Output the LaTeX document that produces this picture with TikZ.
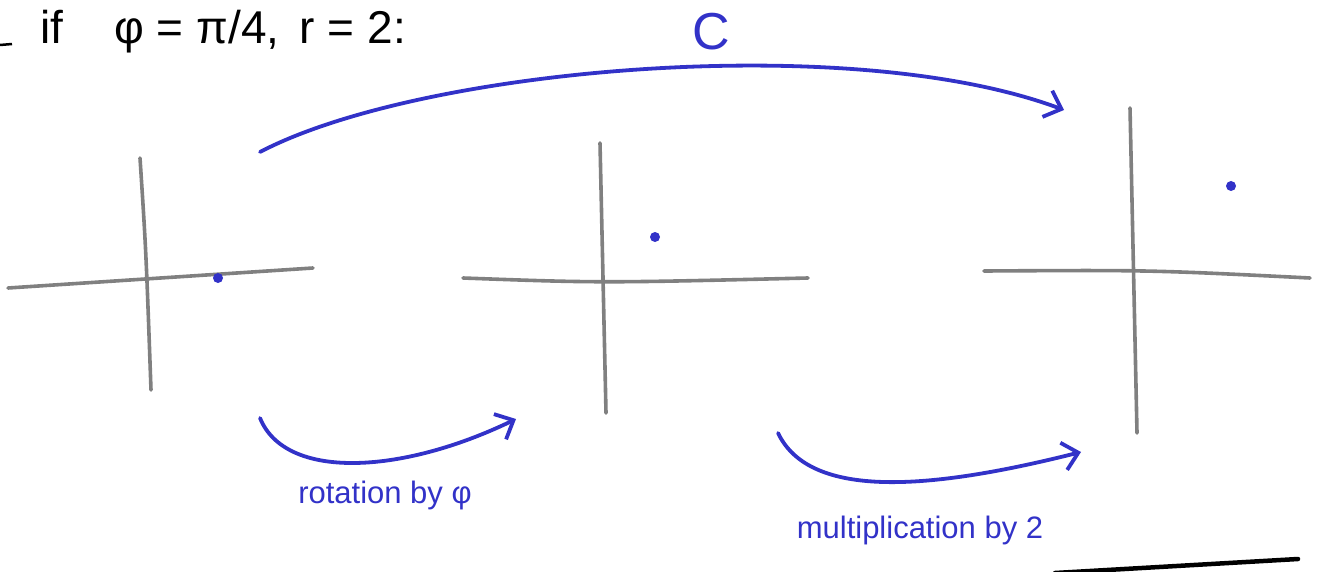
\documentclass[tikz,border=0pt]{standalone}
\usepackage{fontspec}
\setmainfont{Liberation Sans}
\usetikzlibrary{arrows.meta}
\definecolor{penblue}{RGB}{50,50,200}
\definecolor{axisgray}{RGB}{128,128,128}
\tikzset{
  axisline/.style={draw=axisgray, line width=3.6pt, line cap=round},
  bluearrow/.style={draw=penblue, line width=3.8pt, line cap=round, -{Straight Barb[length=15pt,width=28pt,line width=3.8pt]}},
  ptdot/.style={circle, fill=penblue, inner sep=0pt, minimum size=10pt},
  bluelabel/.style={text=penblue, font=\fontsize{31}{34}\selectfont},
}
\begin{document}
\begin{tikzpicture}[x=1pt,y=-1pt]
\useasboundingbox (0,0) rectangle (1321,572);
% heading
\node[anchor=base west, font=\fontsize{46}{50}\selectfont, inner sep=0pt] (head) at (40,44) {if\;\;\; φ = π/4,\, r = 2:};
\coordinate (dashA) at (0,45);
\coordinate (dashB) at (12,44);
\draw[line width=2.5pt] (dashA) -- (dashB);
% axes 1
\coordinate (h1a) at (8,288); \coordinate (h1b) at (313,268);
\coordinate (v1a) at (140,158); \coordinate (v1b) at (151,390);
\draw[axisline] (h1a) -- (h1b);
\draw[axisline] (v1a) .. controls (146,250) .. (v1b);
\node[ptdot] (p1) at (218,278) {};
% axes 2
\coordinate (h2a) at (463,278); \coordinate (h2b) at (808,278);
\coordinate (v2a) at (600,143); \coordinate (v2b) at (606,413);
\draw[axisline] (h2a) .. controls (600,283) .. (h2b);
\draw[axisline] (v2a) -- (v2b);
\node[ptdot] (p2) at (655,237) {};
% axes 3
\coordinate (h3a) at (984,271); \coordinate (h3b) at (1310,278);
\coordinate (v3a) at (1130,108); \coordinate (v3b) at (1137,433);
\draw[axisline] (h3a) .. controls (1150,270) .. (h3b);
\draw[axisline] (v3a) -- (v3b);
\node[ptdot] (p3) at (1231,186) {};
% arrows
\coordinate (cA) at (260,152); \coordinate (cB) at (1064,110);
\draw[bluearrow] (cA) .. controls (420,68) and (850,30) .. (cB);
\node[bluelabel, font=\fontsize{52}{56}\selectfont] (clab) at (711,32) {C};
\coordinate (rA) at (260,418); \coordinate (rB) at (516,419);
\draw[bluearrow] (rA) .. controls (285,480) and (400,475) .. (rB);
\node[bluelabel] (rlab) at (385,495) {rotation by φ};
\coordinate (mA) at (778,433); \coordinate (mB) at (1081,452);
\draw[bluearrow] (mA) .. controls (810,500) and (930,490) .. (mB);
\node[bluelabel] (mlab) at (920,530) {multiplication by 2};
% bottom line
\coordinate (bA) at (1055,573); \coordinate (bB) at (1298,559);
\draw[line width=4.5pt, line cap=round] (bA) -- (bB);
\end{tikzpicture}
\end{document}
